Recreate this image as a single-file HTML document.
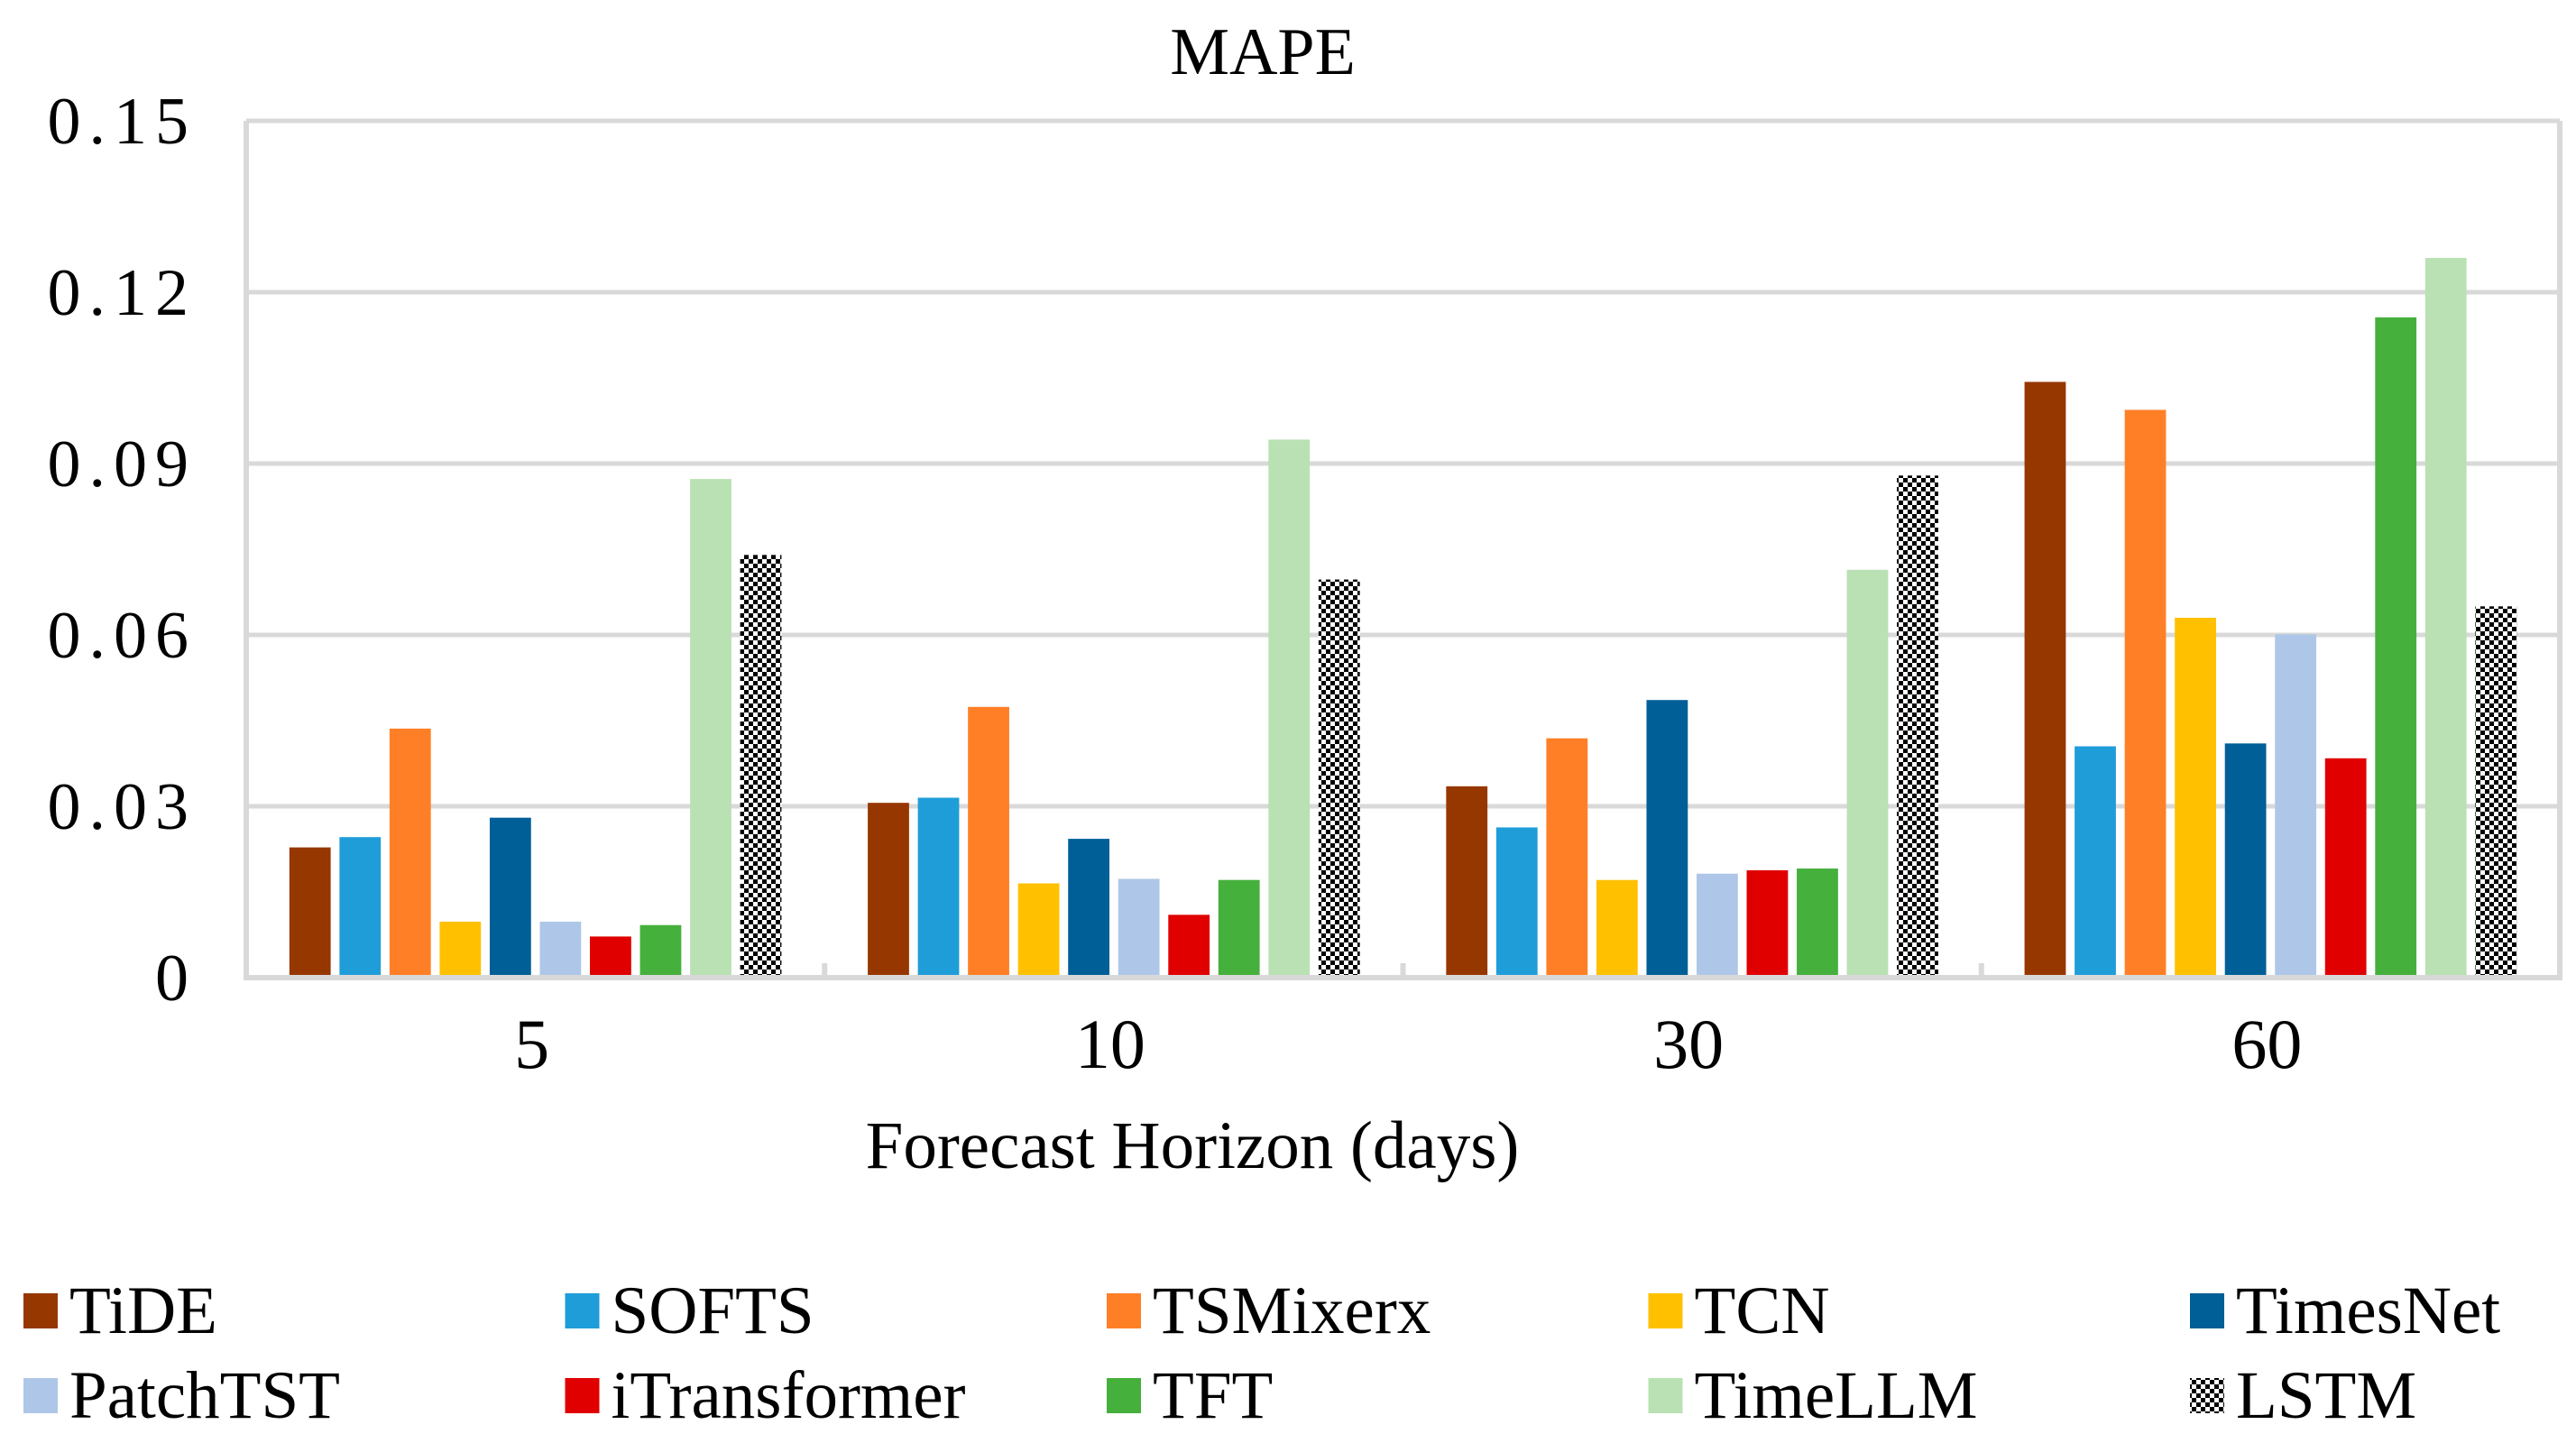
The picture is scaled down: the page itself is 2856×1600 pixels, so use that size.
<!DOCTYPE html>
<html><head><meta charset="utf-8"><style>
html,body{margin:0;padding:0;background:#fff}
svg{display:block;font-family:"Liberation Serif",serif}
</style></head><body>
<svg id="chart" width="2856" height="1600" viewBox="0 0 2856 1600">
<defs>
<pattern id="checker" width="10" height="10" patternUnits="userSpaceOnUse">
<rect width="10" height="10" fill="#fff"/><rect width="5" height="5" fill="#000"/><rect x="5" y="5" width="5" height="5" fill="#000"/>
</pattern>
</defs>
<text x="1400" y="82" font-size="74" text-anchor="middle">MAPE</text>
<g id="grid"></g><g id="bars"></g><g id="axes"></g><g id="legend"></g>
<text x="1322" y="1295" font-size="75" text-anchor="middle">Forecast Horizon (days)</text>
</svg>
<script>
const categories = ["5","10","30","60"];
const seriesNames = ["TiDE","SOFTS","TSMixerx","TCN","TimesNet","PatchTST","iTransformer","TFT","TimeLLM","LSTM"];
const seriesColors = ["#963700","#1F9DD9","#FF7F27","#FFC000","#005F96","#AEC7E8","#E00000","#45B03C","#B9E1B3","url(#checker)"];
const vTiDE = [0.0228,0.0306,0.0335,0.1043];
const vSOFTS = [0.0246,0.0315,0.0263,0.0405];
const vTSMixerx = [0.0436,0.0474,0.0419,0.0994];
const vTCN = [0.0098,0.0165,0.0171,0.0630];
const vTimesNet = [0.0280,0.0243,0.0486,0.0410];
const vPatchTST = [0.0098,0.0173,0.0182,0.0601];
const vITransformer = [0.0072,0.0110,0.0188,0.0384];
const vTFT = [0.0092,0.0171,0.0191,0.1156];
const vTimeLLM = [0.0873,0.0942,0.0714,0.1260];
const vLSTM = [0.0740,0.0697,0.0879,0.0650];
const yTicks = [0,0.03,0.06,0.09,0.12,0.15];
const yTickLabels = ["0","0.03","0.06","0.09","0.12","0.15"];

const series = [vTiDE,vSOFTS,vTSMixerx,vTCN,vTimesNet,vPatchTST,vITransformer,vTFT,vTimeLLM,vLSTM];
const NS="http://www.w3.org/2000/svg";
const L=273,R=2838,T=134,B=1084,yMax=0.15;
const catW=(R-L)/categories.length;
const y=v=>B-(v/yMax)*(B-T);
const x=i=>L+i*catW;
function mk(tag,attrs,parent){const e=document.createElementNS(NS,tag);for(const k in attrs)e.setAttribute(k,attrs[k]);parent.appendChild(e);return e;}
const grid=document.getElementById('grid'),bars=document.getElementById('bars'),axes=document.getElementById('axes'),legend=document.getElementById('legend');
yTicks.forEach((t,i)=>{
  if(i>0){const g=mk('line',{x1:L,x2:R,y1:y(t),y2:y(t),stroke:'#d9d9d9','stroke-width':5},grid);
  
  }
  const tx=mk('text',{x:218,y:y(t)+25,'font-size':74,'text-anchor':'end','letter-spacing':'9'},axes);
  tx.textContent=yTickLabels[i];
  
  
});
const ax=mk('path',{d:`M${L},${T} V${B} H${R} V${T}`,fill:'none',stroke:'#d9d9d9','stroke-width':6},axes);


for(let i=1;i<categories.length;i++){
  const tk=mk('line',{x1:x(i),x2:x(i),y1:B,y2:B-16,stroke:'#d9d9d9','stroke-width':6},axes);
  
  
}
const bw=catW*0.0714,pitch=catW*0.0866,off=(catW-(series.length-1)*pitch-bw)/2;
categories.forEach((c,ci)=>{
  const lb=mk('text',{x:x(ci)+catW/2-4,y:1184,'font-size':78,'text-anchor':'middle'},axes);
  lb.textContent=c;
  
  
  series.forEach((s,si)=>{
    const r=mk('rect',{x:x(ci)+off+si*pitch,y:y(s[ci]),width:bw,height:B-y(s[ci]),fill:seriesColors[si]},bars);
    
    
  });
});
seriesNames.forEach((n,i)=>{
  const col=i%5,row=Math.floor(i/5);
  const gx=26+col*600.5,gy=1434+row*94;
  const g=mk('g',{},legend);
  
  
  mk('rect',{x:gx,y:gy,width:38,height:39,fill:seriesColors[i]},g);
  const t=mk('text',{x:gx+51,y:gy+44,'font-size':75},g);
  t.textContent=n;
});
</script>
</body></html>
